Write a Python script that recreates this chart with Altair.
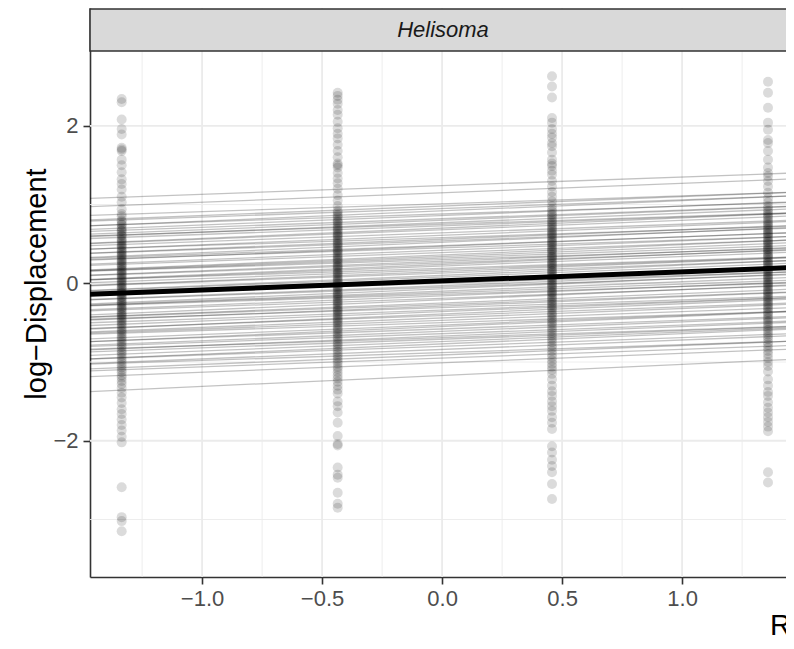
import altair as alt
import pandas as pd

# ---- data ----
x_levels = [-1.335, -0.435, 0.458, 1.358]

col1 = [2.34, 2.30, 2.08, 1.96, 1.89, 1.72, 1.70, 1.68, 1.57, 1.50, 1.41, 1.32, 1.26, 1.19, 1.10, 1.03, 0.94, 0.88, 0.85, 0.80,
        0.78, 0.75, 0.74, 0.71, 0.69, 0.67, 0.66, 0.63, 0.61, 0.60, 0.57, 0.55, 0.54, 0.52, 0.50, 0.48, 0.47, 0.45, 0.43, 0.41,
        0.40, 0.38, 0.36, 0.35, 0.33, 0.31, 0.29, 0.28, 0.26, 0.24, 0.23, 0.21, 0.19, 0.17, 0.16, 0.14, 0.12, 0.11, 0.09, 0.07,
        0.05, 0.04, 0.02, 0.00, -0.01, -0.03, -0.05, -0.06, -0.08, -0.10, -0.12, -0.13, -0.15, -0.17, -0.18, -0.20, -0.22, -0.24,
        -0.25, -0.27, -0.29, -0.31, -0.32, -0.34, -0.36, -0.38, -0.40, -0.41, -0.43, -0.45, -0.47, -0.49, -0.51, -0.53, -0.55,
        -0.58, -0.60, -0.62, -0.64, -0.67, -0.69, -0.71, -0.74, -0.76, -0.79, -0.81, -0.84, -0.87, -0.89, -0.92, -0.95, -0.98,
        -1.01, -1.04, -1.07, -1.10, -1.13, -1.17, -1.20, -1.24, -1.28,
        -1.33, -1.39, -1.45, -1.52, -1.60, -1.66, -1.73, -1.80, -1.87, -1.95, -2.02, -2.59, -2.97, -3.02, -3.15]

col2 = [2.42, 2.38, 2.33, 2.28, 2.20, 2.14, 2.05, 1.97, 1.90, 1.84, 1.76, 1.68, 1.60, 1.52, 1.50, 1.47, 1.40, 1.33, 1.27,
        1.20, 1.12, 1.05, 0.98, 0.92,
        0.90, 0.87, 0.85, 0.83, 0.80, 0.78, 0.77, 0.74, 0.72, 0.70, 0.68, 0.66, 0.64, 0.62, 0.61, 0.59, 0.57, 0.55, 0.53, 0.51,
        0.50, 0.48, 0.46, 0.44, 0.42, 0.41, 0.39, 0.37, 0.35, 0.33, 0.31, 0.30, 0.28, 0.26, 0.24, 0.22, 0.21, 0.19, 0.17, 0.15,
        0.13, 0.12, 0.10, 0.08, 0.06, 0.04, 0.03, 0.01, -0.01, -0.03, -0.05, -0.06, -0.08, -0.10, -0.12, -0.14, -0.15, -0.17,
        -0.19, -0.21, -0.23, -0.24, -0.26, -0.28, -0.30, -0.32, -0.34, -0.35, -0.37, -0.39, -0.41, -0.43, -0.45, -0.47, -0.49,
        -0.51, -0.53, -0.56, -0.58, -0.60, -0.63, -0.65, -0.68, -0.70, -0.73, -0.76, -0.78, -0.81, -0.84, -0.87, -0.90, -0.93,
        -0.96, -0.99, -1.02, -1.06, -1.09, -1.13, -1.17, -1.21, -1.25, -1.30, -1.35, -1.40,
        -1.50, -1.56, -1.64, -1.77, -1.94, -2.04, -2.06, -2.34, -2.43, -2.47, -2.66, -2.80, -2.85]

col3 = [2.63, 2.50, 2.36, 2.10, 2.04, 1.96, 1.90, 1.85, 1.78, 1.74, 1.66, 1.57, 1.52, 1.49, 1.43, 1.38, 1.30, 1.23, 1.16,
        1.10, 1.04, 0.98,
        0.94, 0.91, 0.88, 0.86, 0.84, 0.81, 0.79, 0.77, 0.75, 0.73, 0.71, 0.69, 0.67, 0.65, 0.63, 0.62, 0.60, 0.58, 0.56, 0.54,
        0.52, 0.51, 0.49, 0.47, 0.45, 0.43, 0.42, 0.40, 0.38, 0.36, 0.34, 0.33, 0.31, 0.29, 0.27, 0.25, 0.24, 0.22, 0.20, 0.18,
        0.16, 0.15, 0.13, 0.11, 0.09, 0.07, 0.06, 0.04, 0.02, 0.00, -0.02, -0.03, -0.05, -0.07, -0.09, -0.11, -0.12, -0.14,
        -0.16, -0.18, -0.20, -0.22, -0.24, -0.26, -0.28, -0.30, -0.32, -0.34, -0.37, -0.39, -0.41, -0.44, -0.46, -0.49, -0.51,
        -0.54, -0.57, -0.60, -0.63, -0.66, -0.69, -0.72, -0.75, -0.79, -0.82, -0.86, -0.90, -0.94, -0.98, -1.02, -1.06, -1.10,
        -1.15, -1.22, -1.30, -1.37, -1.43, -1.50, -1.56, -1.62, -1.70, -1.77, -1.85, -2.07, -2.15, -2.24, -2.32, -2.40, -2.55,
        -2.74]

col4 = [2.56, 2.42, 2.23, 2.04, 1.95, 1.82, 1.78, 1.68, 1.57, 1.47, 1.40, 1.36, 1.30, 1.23, 1.15, 1.08, 1.03,
        0.98, 0.95, 0.92, 0.90, 0.87, 0.85, 0.83, 0.80, 0.78, 0.76, 0.74, 0.72, 0.70, 0.68, 0.66, 0.64, 0.63, 0.61, 0.59, 0.57,
        0.55, 0.53, 0.52, 0.50, 0.48, 0.46, 0.44, 0.43, 0.41, 0.39, 0.37, 0.35, 0.34, 0.32, 0.30, 0.28, 0.26, 0.25, 0.23, 0.21,
        0.19, 0.17, 0.16, 0.14, 0.12, 0.10, 0.08, 0.07, 0.05, 0.03, 0.01, -0.01, -0.02, -0.04, -0.06, -0.08, -0.10, -0.11,
        -0.13, -0.15, -0.17, -0.19, -0.21, -0.23, -0.25, -0.27, -0.29, -0.31, -0.33, -0.36, -0.38, -0.40, -0.43, -0.45, -0.48,
        -0.50, -0.53, -0.56, -0.59, -0.62, -0.65, -0.68, -0.71, -0.75, -0.78, -0.82, -0.86, -0.90, -0.95, -1.00,
        -1.05, -1.12, -1.22, -1.30, -1.38, -1.43, -1.51, -1.58, -1.64, -1.70, -1.76, -1.82, -1.88, -2.40, -2.53]

line_intercepts = [1.24, 1.15, 1.01, 0.98, 0.95, 0.92, 0.88, 0.86, 0.82, 0.80,
                   0.77, 0.75, 0.73, 0.70, 0.68, 0.64, 0.61, 0.58, 0.56, 0.54,
                   0.52, 0.48, 0.47, 0.45, 0.42, 0.39, 0.36, 0.34, 0.32, 0.30,
                   0.28, 0.26, 0.24, 0.22, 0.19, 0.17, 0.15, 0.13, 0.10, 0.08,
                   0.05, 0.02, 0.00, -0.03, -0.05, -0.07, -0.10, -0.12, -0.14, -0.16,
                   -0.19, -0.21, -0.25, -0.27, -0.29, -0.31, -0.34, -0.36, -0.39, -0.41,
                   -0.44, -0.47, -0.50, -0.53, -0.55, -0.58, -0.61, -0.64, -0.67, -0.69,
                   -0.71, -0.74, -0.77, -0.80, -0.84, -0.88, -0.91, -0.95, -1.01, -1.17]
line_slopes = [0.11, 0.12, 0.10, 0.12, 0.11, 0.13, 0.10, 0.12, 0.11, 0.12,
               0.12, 0.10, 0.11, 0.13, 0.12, 0.11, 0.12, 0.10, 0.12, 0.11,
               0.13, 0.11, 0.12, 0.10, 0.12, 0.11, 0.13, 0.12, 0.11, 0.10,
               0.12, 0.11, 0.13, 0.12, 0.10, 0.11, 0.12, 0.11, 0.13, 0.12,
               0.11, 0.12, 0.10, 0.12, 0.11, 0.13, 0.12, 0.11, 0.10, 0.12,
               0.11, 0.13, 0.12, 0.11, 0.12, 0.10, 0.11, 0.12, 0.13, 0.11,
               0.12, 0.11, 0.10, 0.12, 0.13, 0.11, 0.12, 0.11, 0.12, 0.10,
               0.11, 0.12, 0.13, 0.11, 0.12, 0.10, 0.12, 0.11, 0.12, 0.14]
mean_intercept = 0.03
mean_slope = 0.116

x_ticks = [-1.0, -0.5, 0.0, 0.5, 1.0]
x_minor = [-1.25, -0.75, -0.25, 0.25, 0.75, 1.25]
y_ticks = [-2, 0, 2]
y_minor = [-3, -1, 1, 3]
x_domain = [-1.467, 1.433]
y_domain = [-3.73, 3.496]
line_ends = [-1.6, 1.6]

panel_label = "Helisoma"
y_title = "log\u2212Displacement"
x_title = "Resource level"

# ---- tables ----
pts = pd.DataFrame({
    "x": [x_levels[0]] * len(col1) + [x_levels[1]] * len(col2) + [x_levels[2]] * len(col3) + [x_levels[3]] * len(col4),
    "y": col1 + col2 + col3 + col4,
})
rows = []
for i, (a, b) in enumerate(zip(line_intercepts, line_slopes)):
    for xe in line_ends:
        rows.append({"id": i, "x": xe, "a": a, "b": b})
lines = pd.DataFrame(rows)
mean_df = pd.DataFrame({"x": line_ends, "a": [mean_intercept] * 2, "b": [mean_slope] * 2})

W, H = 696, 569
FONT = "Liberation Sans"

xscale = alt.Scale(domain=x_domain, nice=False, zero=False)
yscale = alt.Scale(domain=y_domain, nice=False, zero=False)
common_ax = dict(grid=False, title=None, tickSize=7, tickWidth=1.6, tickColor="#333333",
                 domainColor="#333333", domainWidth=1.6, labelFontSize=22, labelColor="#4D4D4D",
                 labelFont=FONT)
xaxis = alt.Axis(values=x_ticks, format=".1f", labelPadding=4, **common_ax)
yaxis = alt.Axis(values=y_ticks, format="d", labelPadding=5, **common_ax)

X = lambda: alt.X("x:Q", scale=xscale, axis=xaxis)
Y = lambda: alt.Y("y:Q", scale=yscale, axis=yaxis)

grid_xmin = alt.Chart(pd.DataFrame({"x": x_minor})).mark_rule(color="#EBEBEB", strokeWidth=0.9).encode(x=X())
grid_xmaj = alt.Chart(pd.DataFrame({"x": x_ticks})).mark_rule(color="#EBEBEB", strokeWidth=1.8).encode(x=X())
grid_ymin = alt.Chart(pd.DataFrame({"y": y_minor})).mark_rule(color="#EBEBEB", strokeWidth=0.9).encode(y=Y())
grid_ymaj = alt.Chart(pd.DataFrame({"y": y_ticks})).mark_rule(color="#EBEBEB", strokeWidth=1.8).encode(y=Y())

points = alt.Chart(pts).mark_circle(size=100, color="black", opacity=0.14).encode(x=X(), y=Y())

thin = alt.Chart(lines).transform_calculate(y="datum.a + datum.b * datum.x").mark_line(
    color="black", opacity=0.24, strokeWidth=1.3, clip=True
).encode(x=X(), y=Y(), detail="id:N")

thick = alt.Chart(mean_df).transform_calculate(y="datum.a + datum.b * datum.x").mark_line(
    color="black", strokeWidth=5, clip=True
).encode(x=X(), y=Y())

one = pd.DataFrame({"k": [0]})
strip = alt.Chart(one).mark_rect(fill="#D9D9D9", stroke="#333333", strokeWidth=1.6).encode(
    x=alt.value(0), x2=alt.value(740), y=alt.value(1), y2=alt.value(43))
strip_text = alt.Chart(one).mark_text(text=panel_label, font=FONT, fontSize=22, fontStyle="italic",
                                      color="#1A1A1A", align="center", baseline="middle").encode(
    x=alt.value(353), y=alt.value(22))
ytitle = alt.Chart(one).mark_text(text=y_title, font=FONT, fontSize=29, color="black", angle=270,
                                  align="center", baseline="middle").encode(x=alt.value(-53), y=alt.value(276))
xtitle = alt.Chart(one).mark_text(text=x_title, font=FONT, fontSize=29, color="black", align="left",
                                  baseline="alphabetic").encode(x=alt.value(680), y=alt.value(627))

chart = alt.layer(
    grid_xmin, grid_xmaj, grid_ymin, grid_ymaj, points, thin, thick, strip, strip_text, ytitle, xtitle
).properties(
    width=W, height=H,
    autosize=alt.AutoSizeParams(type="none"),
    padding={"left": 82, "top": 0, "right": 0, "bottom": 60},
    background="white",
).configure_view(strokeWidth=0)

chart.save("out.html", embed_options={"renderer": "svg", "actions": False})
